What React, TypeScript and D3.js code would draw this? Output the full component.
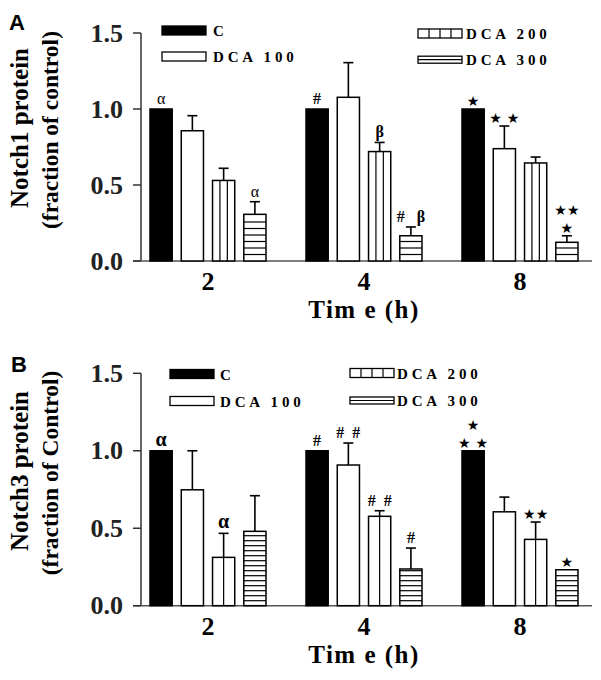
import React from "react";
import * as d3 from "d3";

const groups = ["2", "4", "8"];
const series = ["C", "DCA 100", "DCA 200", "DCA 300"];
const yTicks = [0, 0.5, 1.0, 1.5];

// Notch1 (panel A): means and upper error ends, per time group, per series
const notch1Mean = [
  [1.0, 0.857, 0.53, 0.307],
  [1.0, 1.077, 0.72, 0.166],
  [1.0, 0.739, 0.645, 0.123],
];
const notch1Upper = [
  [1.0, 0.956, 0.61, 0.39],
  [1.0, 1.305, 0.78, 0.224],
  [1.0, 0.888, 0.684, 0.166],
];
// Notch3 (panel B)
const notch3Mean = [
  [1.0, 0.748, 0.312, 0.48],
  [1.0, 0.908, 0.577, 0.237],
  [1.0, 0.606, 0.428, 0.232],
];
const notch3Upper = [
  [1.0, 1.0, 0.467, 0.71],
  [1.0, 1.05, 0.613, 0.372],
  [1.0, 0.701, 0.54, 0.232],
];

// significance marks: [group index, series index, lines top-to-bottom]
const notch1Marks: [number, number, string[]][] = [
  [0, 0, ["α"]],
  [0, 3, ["α"]],
  [1, 0, ["#"]],
  [1, 2, ["β"]],
  [1, 3, ["#   β"]],
  [2, 0, ["★"]],
  [2, 1, ["★ ★"]],
  [2, 3, ["★★", "★"]],
];
const notch3Marks: [number, number, string[]][] = [
  [0, 0, ["α"]],
  [0, 2, ["α"]],
  [1, 0, ["#"]],
  [1, 1, ["#  #"]],
  [1, 2, ["#  #"]],
  [1, 3, ["#"]],
  [2, 0, ["★", "★ ★"]],
  [2, 2, ["★★"]],
  [2, 3, ["★"]],
];

const SERIF = "'Liberation Serif', 'Times New Roman', serif";

type PanelProps = {
  letter: string;
  yLabel1: string;
  yLabel2: string;
  mean: number[][];
  upper: number[][];
  marks: [number, number, string[]][];
  yTop: number;
  yBottom: number;
  vLines: number;
  hGap: number;
  alphaBold: boolean;
  legendLeft: { x: number; rows: number[]; tx: number };
  legendRight: { x: number; rows: number[]; tx: number };
  letterPos: [number, number];
  labelCenter: number;
};

function Panel(p: PanelProps) {
  const y = d3.scaleLinear().domain([0, 1.5]).range([p.yBottom, p.yTop]);
  const x = d3.scaleBand().domain(groups).range([130, 598]).padding(0);
  const inner = d3
    .scaleBand()
    .domain(series)
    .range([20, 136])
    .paddingInner(0.29)
    .paddingOuter(0);
  const bw = inner.bandwidth();
  const axisX0 = 141;
  const axisX1 = 592;

  const fillFor = (si: number) => (si === 0 ? "#000" : "#fff");

  const hatch = (si: number, bx: number, top: number, bottom: number, key: string) => {
    const out: JSX.Element[] = [];
    if (si === 2) {
      for (let k = 1; k <= p.vLines; k++) {
        const lx = bx + (bw * k) / (p.vLines + 1);
        out.push(
          <line key={key + "v" + k} x1={lx} x2={lx} y1={top} y2={bottom} stroke="#000" strokeWidth={1.2} />
        );
      }
    } else if (si === 3) {
      let k = 0;
      for (let ly = bottom - p.hGap; ly > top + 1.5; ly -= p.hGap) {
        out.push(
          <line key={key + "h" + k++} x1={bx} x2={bx + bw} y1={ly} y2={ly} stroke="#000" strokeWidth={1.2} />
        );
      }
    }
    return out;
  };

  const legendIcon = (si: number, lx: number, cy: number, key: string) => {
    const w = 44;
    const h = si === 3 ? 7 : 9;
    const top = cy - h / 2;
    const els: JSX.Element[] = [
      <rect key={key} x={lx} y={top} width={w} height={h} fill={fillFor(si)} stroke="#000" strokeWidth={1.3} />,
    ];
    if (si === 2) {
      for (let k = 1; k <= 3; k++) {
        els.push(
          <line key={key + k} x1={lx + (w * k) / 4} x2={lx + (w * k) / 4} y1={top} y2={top + h} stroke="#000" strokeWidth={1.2} />
        );
      }
    }
    if (si === 3) {
      els.push(<line key={key + "m"} x1={lx} x2={lx + w} y1={cy} y2={cy} stroke="#000" strokeWidth={1.2} />);
    }
    return els;
  };

  const legendText = (label: string, tx: number, cy: number) => (
    <text
      key={"lt" + label}
      x={tx}
      y={cy + 5.5}
      fontFamily={SERIF}
      fontWeight="bold"
      fontSize={15}
      letterSpacing={label === "C" ? 0 : 3.8}
    >
      {label}
    </text>
  );

  return (
    <g>
      <text x={p.letterPos[0]} y={p.letterPos[1]} fontFamily="'Liberation Sans', Arial, sans-serif" fontWeight="bold" fontSize={22}>
        {p.letter}
      </text>
      {/* y label */}
      <g transform={`translate(28, ${p.labelCenter}) rotate(-90)`}>
        <text x={0} y={0} textAnchor="middle" fontFamily={SERIF} fontWeight="bold" fontSize={25}>
          {p.yLabel1}
        </text>
      </g>
      <g transform={`translate(58, ${p.labelCenter + 2}) rotate(-90)`}>
        <text x={0} y={0} textAnchor="middle" fontFamily={SERIF} fontWeight="bold" fontSize={23.5}>
          {p.yLabel2}
        </text>
      </g>
      {/* axes */}
      <line x1={axisX0} x2={axisX0} y1={y(1.5)} y2={y(0)} stroke="#333" strokeWidth={1.5} />
      <line x1={axisX0 - 8} x2={axisX1} y1={y(0)} y2={y(0)} stroke="#555" strokeWidth={1.5} />
      {yTicks.map((t) => (
        <g key={"t" + t}>
          <line x1={axisX0 - 8} x2={axisX0} y1={y(t)} y2={y(t)} stroke="#333" strokeWidth={1.5} />
          <text
            x={123}
            y={y(t) + 8.5}
            textAnchor="end"
            fontFamily={SERIF}
            fontWeight="bold"
            fontSize={26}
            fill="#222"
          >
            {d3.format(".1f")(t)}
          </text>
        </g>
      ))}
      {groups.map((g) => (
        <text
          key={"g" + g}
          x={(x(g) as number) + x.bandwidth() / 2}
          y={y(0) + 29}
          textAnchor="middle"
          fontFamily={SERIF}
          fontWeight="bold"
          fontSize={26}
        >
          {g}
        </text>
      ))}
      <text
        x={(x("4") as number) + x.bandwidth() / 2}
        y={y(0) + 57}
        textAnchor="middle"
        fontFamily={SERIF}
        fontWeight="bold"
        fontSize={25}
        letterSpacing={1.5}
      >
        Tim e  (h)
      </text>
      {/* bars */}
      {groups.map((g, gi) =>
        series.map((s, si) => {
          const bx = (x(g) as number) + (inner(s) as number);
          const top = y(p.mean[gi][si]);
          const bottom = y(0);
          const up = y(p.upper[gi][si]);
          const cx = bx + bw / 2;
          return (
            <g key={g + s}>
              {up < top - 0.5 && (
                <g>
                  <line x1={cx} x2={cx} y1={top} y2={up} stroke="#000" strokeWidth={1.6} />
                  <line x1={cx - 5} x2={cx + 5} y1={up} y2={up} stroke="#000" strokeWidth={1.6} />
                </g>
              )}
              <rect x={bx} y={top} width={bw} height={bottom - top} fill={fillFor(si)} stroke="#000" strokeWidth={1.5} />
              {hatch(si, bx, top, bottom, g + s)}
            </g>
          );
        })
      )}
      {/* marks */}
      {p.marks.map(([gi, si, lines], mi) => {
        const s = series[si];
        const cx = (x(groups[gi]) as number) + (inner(s) as number) + bw / 2;
        const anchor = y(Math.max(p.upper[gi][si], p.mean[gi][si]));
        return (
          <g key={"m" + mi}>
            {lines.map((ln, li) => {
              const fromBottom = lines.length - 1 - li;
              const isStar = /^[★\s]+$/.test(ln);
              const base = anchor - (isStar ? 3 : 5) - fromBottom * 18;
              const isAlpha = ln === "α";
              return (
                <text
                  key={li}
                  x={cx}
                  y={base}
                  textAnchor="middle"
                  fontFamily={isStar ? "'DejaVu Sans', sans-serif" : SERIF}
                  fontWeight={isAlpha && !p.alphaBold ? "normal" : "bold"}
                  fontSize={isStar ? 14 : isAlpha ? (p.alphaBold ? 20 : 16) : 16}
                  style={{ whiteSpace: "pre" }}
                >
                  {ln}
                </text>
              );
            })}
          </g>
        );
      })}
      {/* legend */}
      {[0, 1].map((si) => (
        <g key={"ll" + si}>
          {legendIcon(si, p.legendLeft.x, p.legendLeft.rows[si], "li" + si)}
          {legendText(series[si], p.legendLeft.tx, p.legendLeft.rows[si])}
        </g>
      ))}
      {[2, 3].map((si) => (
        <g key={"lr" + si}>
          {legendIcon(si, p.legendRight.x, p.legendRight.rows[si - 2], "ri" + si)}
          {legendText(series[si], p.legendRight.tx, p.legendRight.rows[si - 2])}
        </g>
      ))}
    </g>
  );
}

export default function App() {
  return (
    <svg
      width={601}
      height={680}
      viewBox="0 0 601 680"
      style={{ position: "absolute", left: 0, top: 0, background: "#fff" }}
    >
      <rect x={0} y={0} width={601} height={680} fill="#fff" />
      <Panel
        letter="A"
        yLabel1="Notch1 protein"
        yLabel2="(fraction of control)"
        mean={notch1Mean}
        upper={notch1Upper}
        marks={notch1Marks}
        yTop={33}
        yBottom={261}
        vLines={2}
        hGap={6.5}
        alphaBold={false}
        legendLeft={{ x: 162, rows: [30.5, 56.5], tx: 213 }}
        legendRight={{ x: 418, rows: [33.5, 59.7], tx: 466 }}
        letterPos={[9, 30]}
        labelCenter={128}
      />
      <Panel
        letter="B"
        yLabel1="Notch3 protein"
        yLabel2="(fraction of Control)"
        mean={notch3Mean}
        upper={notch3Upper}
        marks={notch3Marks}
        yTop={373.3}
        yBottom={605.7}
        vLines={1}
        hGap={5}
        alphaBold={true}
        legendLeft={{ x: 170, rows: [374, 401], tx: 220 }}
        legendRight={{ x: 350, rows: [373, 400.5], tx: 397 }}
        letterPos={[11, 372]}
        labelCenter={471}
      />
    </svg>
  );
}
